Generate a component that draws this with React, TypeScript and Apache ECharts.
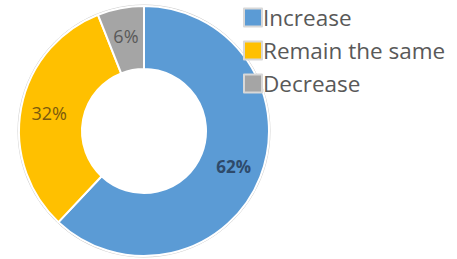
import React, { useEffect, useRef } from "react";
import * as echarts from "echarts";

const categories = ["Increase", "Remain the same", "Decrease"];
const values = [62, 32, 6];
const colors = ["#5B9BD5", "#FFC000", "#A5A5A5"];
const labelColors = ["#2E4A6B", "#7A5A0E", "#595959"];
const labelWeights = ["bold", "normal", "normal"];
const labelSizes = [17, 18, 18];

export default function App() {
  const ref = useRef<HTMLDivElement>(null);
  useEffect(() => {
    const chart = echarts.init(ref.current!, null, { renderer: "svg" });
    chart.setOption({
      animation: false,
      backgroundColor: "#ffffff",
      legend: {
        orient: "vertical",
        left: 238,
        top: 1,
        itemWidth: 18,
        itemHeight: 18,
        itemGap: 10,
        icon: "rect",
        data: categories,
        textStyle: {
          fontFamily: "Open Sans",
          fontSize: 22.5,
          lineHeight: 22,
          color: "#595959",
          padding: [0, 0, 0, -4],
        },
        itemStyle: { borderColor: "#d8d8d8", borderWidth: 2 },
      },
      graphic: [
        {
          type: "circle",
          shape: { cx: 144, cy: 131, r: 126 },
          style: { fill: "none", stroke: "#d0d0d0", lineWidth: 1 },
          silent: true,
          z: 0,
        },
      ],
      series: [
        {
          type: "pie",
          center: [144, 131],
          radius: [62, 125],
          startAngle: 90,
          clockwise: true,
          itemStyle: { borderColor: "#ffffff", borderWidth: 2 },
          label: {
            show: true,
            position: "inside",
            formatter: "{c}%",
            fontFamily: "Open Sans",
          },
          labelLine: { show: false },
          emphasis: { disabled: true },
          data: categories.map((name, i) => ({
            name,
            value: values[i],
            itemStyle: { color: colors[i] },
            label: {
              color: labelColors[i],
              fontWeight: labelWeights[i],
              fontSize: labelSizes[i],
            },
          })),
        },
      ],
    });
    return () => chart.dispose();
  }, []);
  return <div ref={ref} style={{ width: 457, height: 259, position: "fixed", left: 0, top: 0 }} />;
}
